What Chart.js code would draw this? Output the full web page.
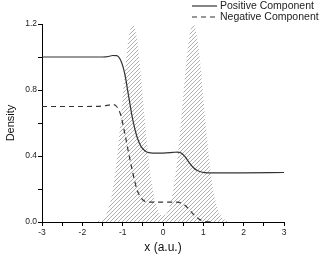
<!DOCTYPE html>
<html>
<head>
<meta charset="utf-8">
<script src="https://cdn.jsdelivr.net/npm/chart.js@4.4.1/dist/chart.umd.min.js"></script>
<style>
  html, body { margin: 0; padding: 0; background: #fff; }
</style>
</head>
<body>
<canvas id="chart" width="321" height="256"></canvas>
<script>
// 🔹 DATA
const labels = ["Positive Component", "Negative Component"];

const xPos = [-3, -2, -1.5, -1.35, -1.25, -1.15, -1.05, -0.95, -0.85, -0.75, -0.65, -0.55, -0.45, -0.35, -0.25, 0, 0.25, 0.35, 0.45, 0.55, 0.65, 0.75, 0.85, 0.95, 1.1, 2, 3];
const yPos = [1.0, 1.0, 1.0, 1.003, 1.009, 1.008, 0.98, 0.90, 0.76, 0.62, 0.52, 0.46, 0.432, 0.42, 0.418, 0.418, 0.422, 0.424, 0.418, 0.395, 0.36, 0.33, 0.312, 0.303, 0.298, 0.298, 0.30];

const xNeg = [-3, -2, -1.5, -1.35, -1.25, -1.15, -1.05, -0.95, -0.85, -0.75, -0.65, -0.55, -0.45, -0.35, 0, 0.35, 0.45, 0.55, 0.65, 0.75, 0.85, 0.95, 1.05, 1.2];
const yNeg = [0.70, 0.70, 0.703, 0.708, 0.712, 0.70, 0.65, 0.54, 0.415, 0.30, 0.20, 0.148, 0.125, 0.12, 0.12, 0.12, 0.115, 0.10, 0.075, 0.048, 0.025, 0.01, 0.003, 0];

// hatched density of the two peaks
const xDen = [-1.65, -1.55, -1.45, -1.35, -1.25, -1.15, -1.05, -0.95, -0.85, -0.75, -0.65, -0.55, -0.45, -0.35, -0.25, -0.15, -0.05, 0.05, 0.15, 0.25, 0.35, 0.45, 0.55, 0.65, 0.75, 0.85, 0.95, 1.05, 1.15, 1.25, 1.35, 1.45, 1.55, 1.65];
const yDen = [0.003, 0.011, 0.032, 0.084, 0.189, 0.368, 0.617, 0.893, 1.115, 1.2, 1.115, 0.893, 0.617, 0.368, 0.189, 0.087, 0.043, 0.043, 0.087, 0.189, 0.368, 0.617, 0.893, 1.115, 1.2, 1.115, 0.893, 0.617, 0.368, 0.189, 0.084, 0.032, 0.011, 0.003];

const xTicks = [-3, -2, -1, 0, 1, 2, 3];
const yTicks = [0.0, 0.4, 0.8, 1.2];

const toPoints = (xs, ys) => xs.map((x, i) => ({ x: x, y: ys[i] }));

// 🎨 hatch pattern
function makeHatch() {
    const c = document.createElement("canvas");
    c.width = 4; c.height = 4;
    const g = c.getContext("2d");
    g.strokeStyle = "#9a9a9a";
    g.lineWidth = 0.8;
    g.beginPath();
    g.moveTo(0, 4); g.lineTo(4, 0);
    g.moveTo(-1, 1); g.lineTo(1, -1);
    g.moveTo(3, 5); g.lineTo(5, 3);
    g.stroke();
    return g.createPattern(c, "repeat");
}

// 🔹 custom legend, top right
const legendPlugin = {
    id: "sideLegend",
    afterDraw(chart) {
        const ctx = chart.ctx;
        const rows = [6, 17];
        ctx.save();
        chart.data.datasets.slice(0, 2).forEach((ds, i) => {
            ctx.strokeStyle = ds.borderColor;
            ctx.lineWidth = ds.borderWidth;
            ctx.setLineDash(ds.borderDash || []);
            ctx.beginPath();
            ctx.moveTo(192, rows[i]);
            ctx.lineTo(217, rows[i]);
            ctx.stroke();
            ctx.setLineDash([]);
            ctx.fillStyle = "#222";
            ctx.font = "10.5px 'Liberation Sans', Arial, sans-serif";
            ctx.textBaseline = "middle";
            ctx.fillText(ds.label, 220, rows[i]);
        });
        ctx.restore();
    }
};

const ctx = document.getElementById("chart").getContext("2d");
const tickFont = { family: "'Liberation Sans', Arial, sans-serif", size: 8.5 };

new Chart(ctx, {
    type: "line",
    data: {
        datasets: [
            {
                label: labels[0],
                data: toPoints(xPos, yPos),
                borderColor: "#333",
                borderWidth: 1.2,
                pointRadius: 0,
                fill: false,
                cubicInterpolationMode: "monotone"
            },
            {
                label: labels[1],
                data: toPoints(xNeg, yNeg),
                borderColor: "#333",
                borderWidth: 1.2,
                borderDash: [5, 4],
                pointRadius: 0,
                fill: false,
                cubicInterpolationMode: "monotone"
            },
            {
                label: "density",
                data: toPoints(xDen, yDen),
                borderWidth: 0,
                borderColor: "rgba(0,0,0,0)",
                backgroundColor: makeHatch(),
                pointRadius: 0,
                fill: "origin",
                cubicInterpolationMode: "monotone"
            }
        ]
    },
    options: {
        responsive: false,
        animation: false,
        layout: { padding: { top: 24, right: 37, left: 0, bottom: 0 } },
        plugins: { legend: { display: false }, tooltip: { enabled: false } },
        scales: {
            x: {
                type: "linear",
                min: -3, max: 3,
                afterFit: s => { s.height = 34; },
                border: { color: "#000", width: 1 },
                grid: { drawOnChartArea: false, drawTicks: true, tickLength: 4, color: "#000" },
                ticks: {
                    stepSize: 0.5,
                    autoSkip: false,
                    maxRotation: 0,
                    padding: 2,
                    color: "#222",
                    font: tickFont,
                    callback: v => xTicks.includes(v) ? String(v) : ""
                },
                title: {
                    display: true,
                    text: "x (a.u.)",
                    color: "#111",
                    font: { family: "'Liberation Sans', Arial, sans-serif", size: 12 },
                    padding: { top: 0, bottom: 1 }
                }
            },
            y: {
                min: 0, max: 1.2,
                afterFit: s => { s.width = 42; },
                border: { color: "#000", width: 1 },
                grid: { drawOnChartArea: false, drawTicks: true, tickLength: 4, color: "#000" },
                ticks: {
                    stepSize: 0.2,
                    autoSkip: false,
                    padding: 1,
                    color: "#222",
                    font: tickFont,
                    callback: v => yTicks.some(t => Math.abs(t - v) < 1e-6) ? v.toFixed(1) : ""
                },
                title: {
                    display: true,
                    text: "Density",
                    color: "#111",
                    font: { family: "'Liberation Sans', Arial, sans-serif", size: 11 },
                    padding: { top: 4, bottom: 0 }
                }
            }
        }
    },
    plugins: [legendPlugin]
});
</script>
</body>
</html>
